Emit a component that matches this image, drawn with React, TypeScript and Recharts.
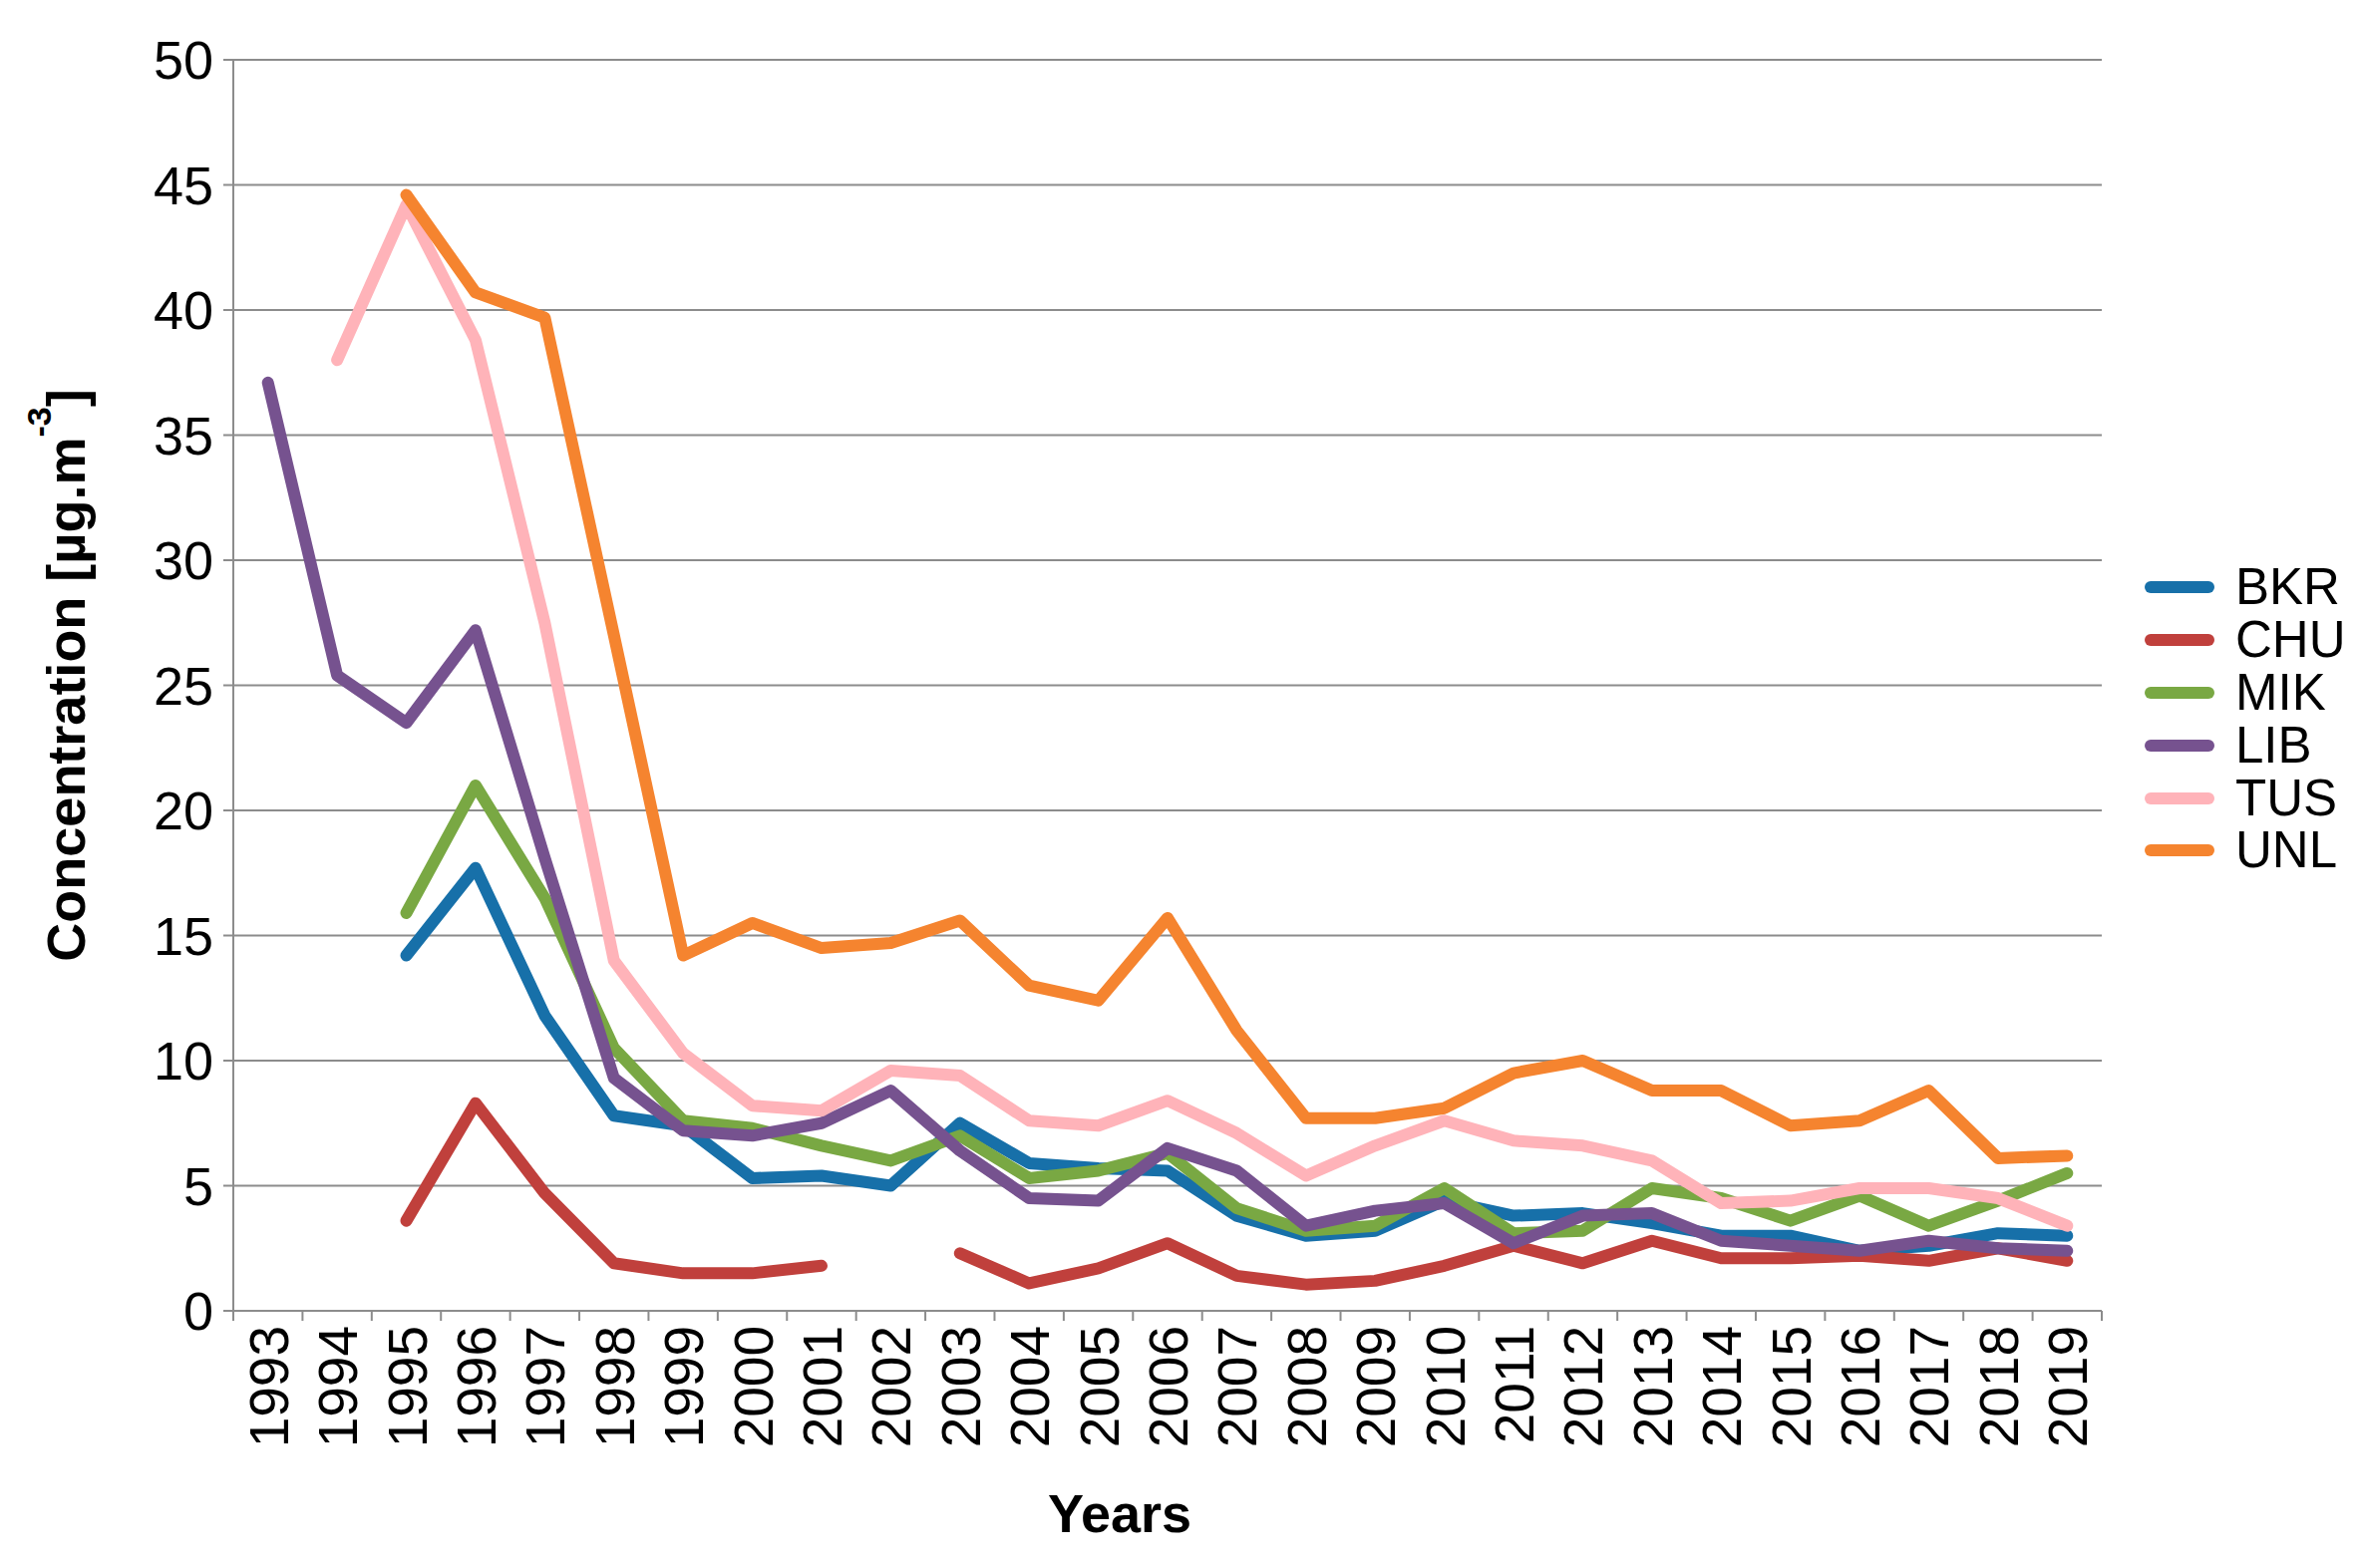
import React from 'react';
import { LineChart, Line, XAxis, YAxis, CartesianGrid, Legend } from 'recharts';

// yearly mean concentrations per station
const years = [
  '1993', '1994', '1995', '1996', '1997', '1998', '1999', '2000', '2001',
  '2002', '2003', '2004', '2005', '2006', '2007', '2008', '2009', '2010',
  '2011', '2012', '2013', '2014', '2015', '2016', '2017', '2018', '2019',
];

const bkr = [null, null, 14.2, 17.7, 11.8, 7.8, 7.4, 5.3, 5.4, 5.0, 7.5, 5.9, 5.7, 5.6, 3.8, 3.0, 3.2, 4.4, 3.8, 3.9, 3.5, 3.0, 3.0, 2.4, 2.6, 3.1, 3.0];
const chu = [null, null, 3.6, 8.3, 4.7, 1.9, 1.5, 1.5, 1.8, null, 2.3, 1.1, 1.7, 2.7, 1.4, 1.05, 1.2, 1.8, 2.6, 1.9, 2.8, 2.1, 2.1, 2.2, 2.0, 2.5, 2.0];
const mik = [null, null, 15.9, 21.0, 16.5, 10.5, 7.6, 7.3, 6.6, 6.0, 7.0, 5.3, 5.6, 6.3, 4.1, 3.2, 3.4, 4.9, 3.1, 3.2, 4.9, 4.5, 3.6, 4.6, 3.4, 4.4, 5.5];
const lib = [37.1, 25.4, 23.5, 27.2, 18.1, 9.3, 7.2, 7.0, 7.5, 8.8, 6.4, 4.5, 4.4, 6.5, 5.6, 3.4, 4.0, 4.3, 2.7, 3.8, 3.9, 2.8, 2.6, 2.4, 2.8, 2.5, 2.4];
const tus = [null, 38.0, 44.2, 38.8, 27.5, 14.0, 10.3, 8.2, 8.0, 9.6, 9.4, 7.6, 7.4, 8.4, 7.1, 5.4, 6.6, 7.6, 6.8, 6.6, 6.0, 4.3, 4.4, 4.9, 4.9, 4.5, 3.4];
const unl = [null, null, 44.6, 40.7, 39.7, 27.0, 14.2, 15.5, 14.5, 14.7, 15.6, 13.0, 12.4, 15.7, 11.2, 7.7, 7.7, 8.1, 9.5, 10.0, 8.8, 8.8, 7.4, 7.6, 8.8, 6.1, 6.2];

const seriesNames = ['BKR', 'CHU', 'MIK', 'LIB', 'TUS', 'UNL'];
const seriesValues = [bkr, chu, mik, lib, tus, unl];
const seriesColors = ['#1770a9', '#c0403c', '#79a843', '#76528f', '#ffb3b9', '#f5842f'];

const yTicks = [0, 5, 10, 15, 20, 25, 30, 35, 40, 45, 50];

const data = years.map((year, i) => {
  const row: Record<string, string | number | null> = { year };
  seriesNames.forEach((name, s) => {
    row[name] = seriesValues[s][i];
  });
  return row;
});

const FONT = '"Liberation Sans", Arial, sans-serif';
const GRID = '#8c8c8c';

// year label rotated, plus a tick mark on the category boundary
const YearTick = (props: any) => {
  const { x, y, payload } = props;
  const half = payload.offset || 0;
  const tx = x + 20;
  const ty = y + 15;
  const last = payload.value === years[years.length - 1];
  return (
    <g>
      <line x1={x - half} y1={y} x2={x - half} y2={y + 10} stroke={GRID} strokeWidth={2} />
      {last && <line x1={x + half} y1={y} x2={x + half} y2={y + 10} stroke={GRID} strokeWidth={2} />}
      <text
        x={tx}
        y={ty}
        transform={`rotate(-90, ${tx}, ${ty})`}
        textAnchor="end"
        fontSize={55}
        fontFamily={FONT}
        fill="#000"
      >
        {payload.value}
      </text>
    </g>
  );
};

const YTitle = (props: any) => {
  const { viewBox } = props;
  const x = viewBox.x + 77;
  const y = viewBox.y + viewBox.height / 2 - 10;
  return (
    <text
      x={x}
      y={y}
      transform={`rotate(-90, ${x}, ${y})`}
      textAnchor="middle"
      fontSize={54}
      fontWeight="bold"
      fontFamily={FONT}
      fill="#000"
    >
      Concentration [µg.m
      <tspan dy={-34} fontSize={34}>-3</tspan>
      <tspan dy={34} fontSize={54}>]</tspan>
    </text>
  );
};

const XTitle = (props: any) => {
  const { viewBox } = props;
  return (
    <text
      x={viewBox.x + viewBox.width / 2 - 48}
      y={viewBox.y + 222}
      textAnchor="middle"
      fontSize={54}
      fontWeight="bold"
      fontFamily={FONT}
      fill="#000"
    >
      Years
    </text>
  );
};

const renderLegend = (props: any) => {
  const items = [...props.payload].sort(
    (a: any, b: any) => seriesNames.indexOf(a.value) - seriesNames.indexOf(b.value)
  );
  return (
    <div style={{ fontFamily: FONT, fontSize: 51, color: '#000' }}>
      {items.map((entry: any) => (
        <div key={entry.value} style={{ display: 'flex', alignItems: 'center', height: 52.8 }}>
          <div
            style={{
              width: 70,
              height: 12,
              borderRadius: 6,
              background: entry.color,
              marginRight: 21,
            }}
          />
          <span style={{ lineHeight: '52px' }}>{entry.value}</span>
        </div>
      ))}
    </div>
  );
};

const App: React.FC = () => {
  return (
    <LineChart
      width={2354}
      height={1557}
      data={data}
      margin={{ top: 52, right: 254, left: 0, bottom: 0 }}
    >
      <CartesianGrid vertical={false} stroke={GRID} strokeWidth={2} />
      <XAxis
        dataKey="year"
        scale="band"
        interval={0}
        height={250}
        tickLine={false}
        tickSize={0}
        tickMargin={0}
        axisLine={{ stroke: GRID, strokeWidth: 2 }}
        tick={<YearTick />}
        label={<XTitle />}
      />
      <YAxis
        type="number"
        domain={[0, 50]}
        ticks={yTicks}
        interval={0}
        width={226}
        tickSize={10}
        tickMargin={10}
        tickLine={{ stroke: GRID, strokeWidth: 2 }}
        axisLine={{ stroke: GRID, strokeWidth: 2 }}
        tick={{ fill: '#000', fontSize: 54, fontFamily: FONT }}
        label={<YTitle />}
      />
      <YAxis
        yAxisId="frame"
        orientation="right"
        width={0}
        tick={false}
        tickLine={false}
        axisLine={{ stroke: GRID, strokeWidth: 2 }}
      />
      <Legend
        layout="horizontal"
        align="center"
        verticalAlign="middle"
        content={renderLegend}
        wrapperStyle={{ position: 'absolute', left: 2143, top: 555, width: 211 }}
      />
      {seriesNames.map((name, s) => (
        <Line
          key={name}
          type="linear"
          dataKey={name}
          stroke={seriesColors[s]}
          strokeWidth={12}
          strokeLinecap="round"
          strokeLinejoin="round"
          dot={false}
          activeDot={false}
          isAnimationActive={false}
        />
      ))}
    </LineChart>
  );
};

export default App;
